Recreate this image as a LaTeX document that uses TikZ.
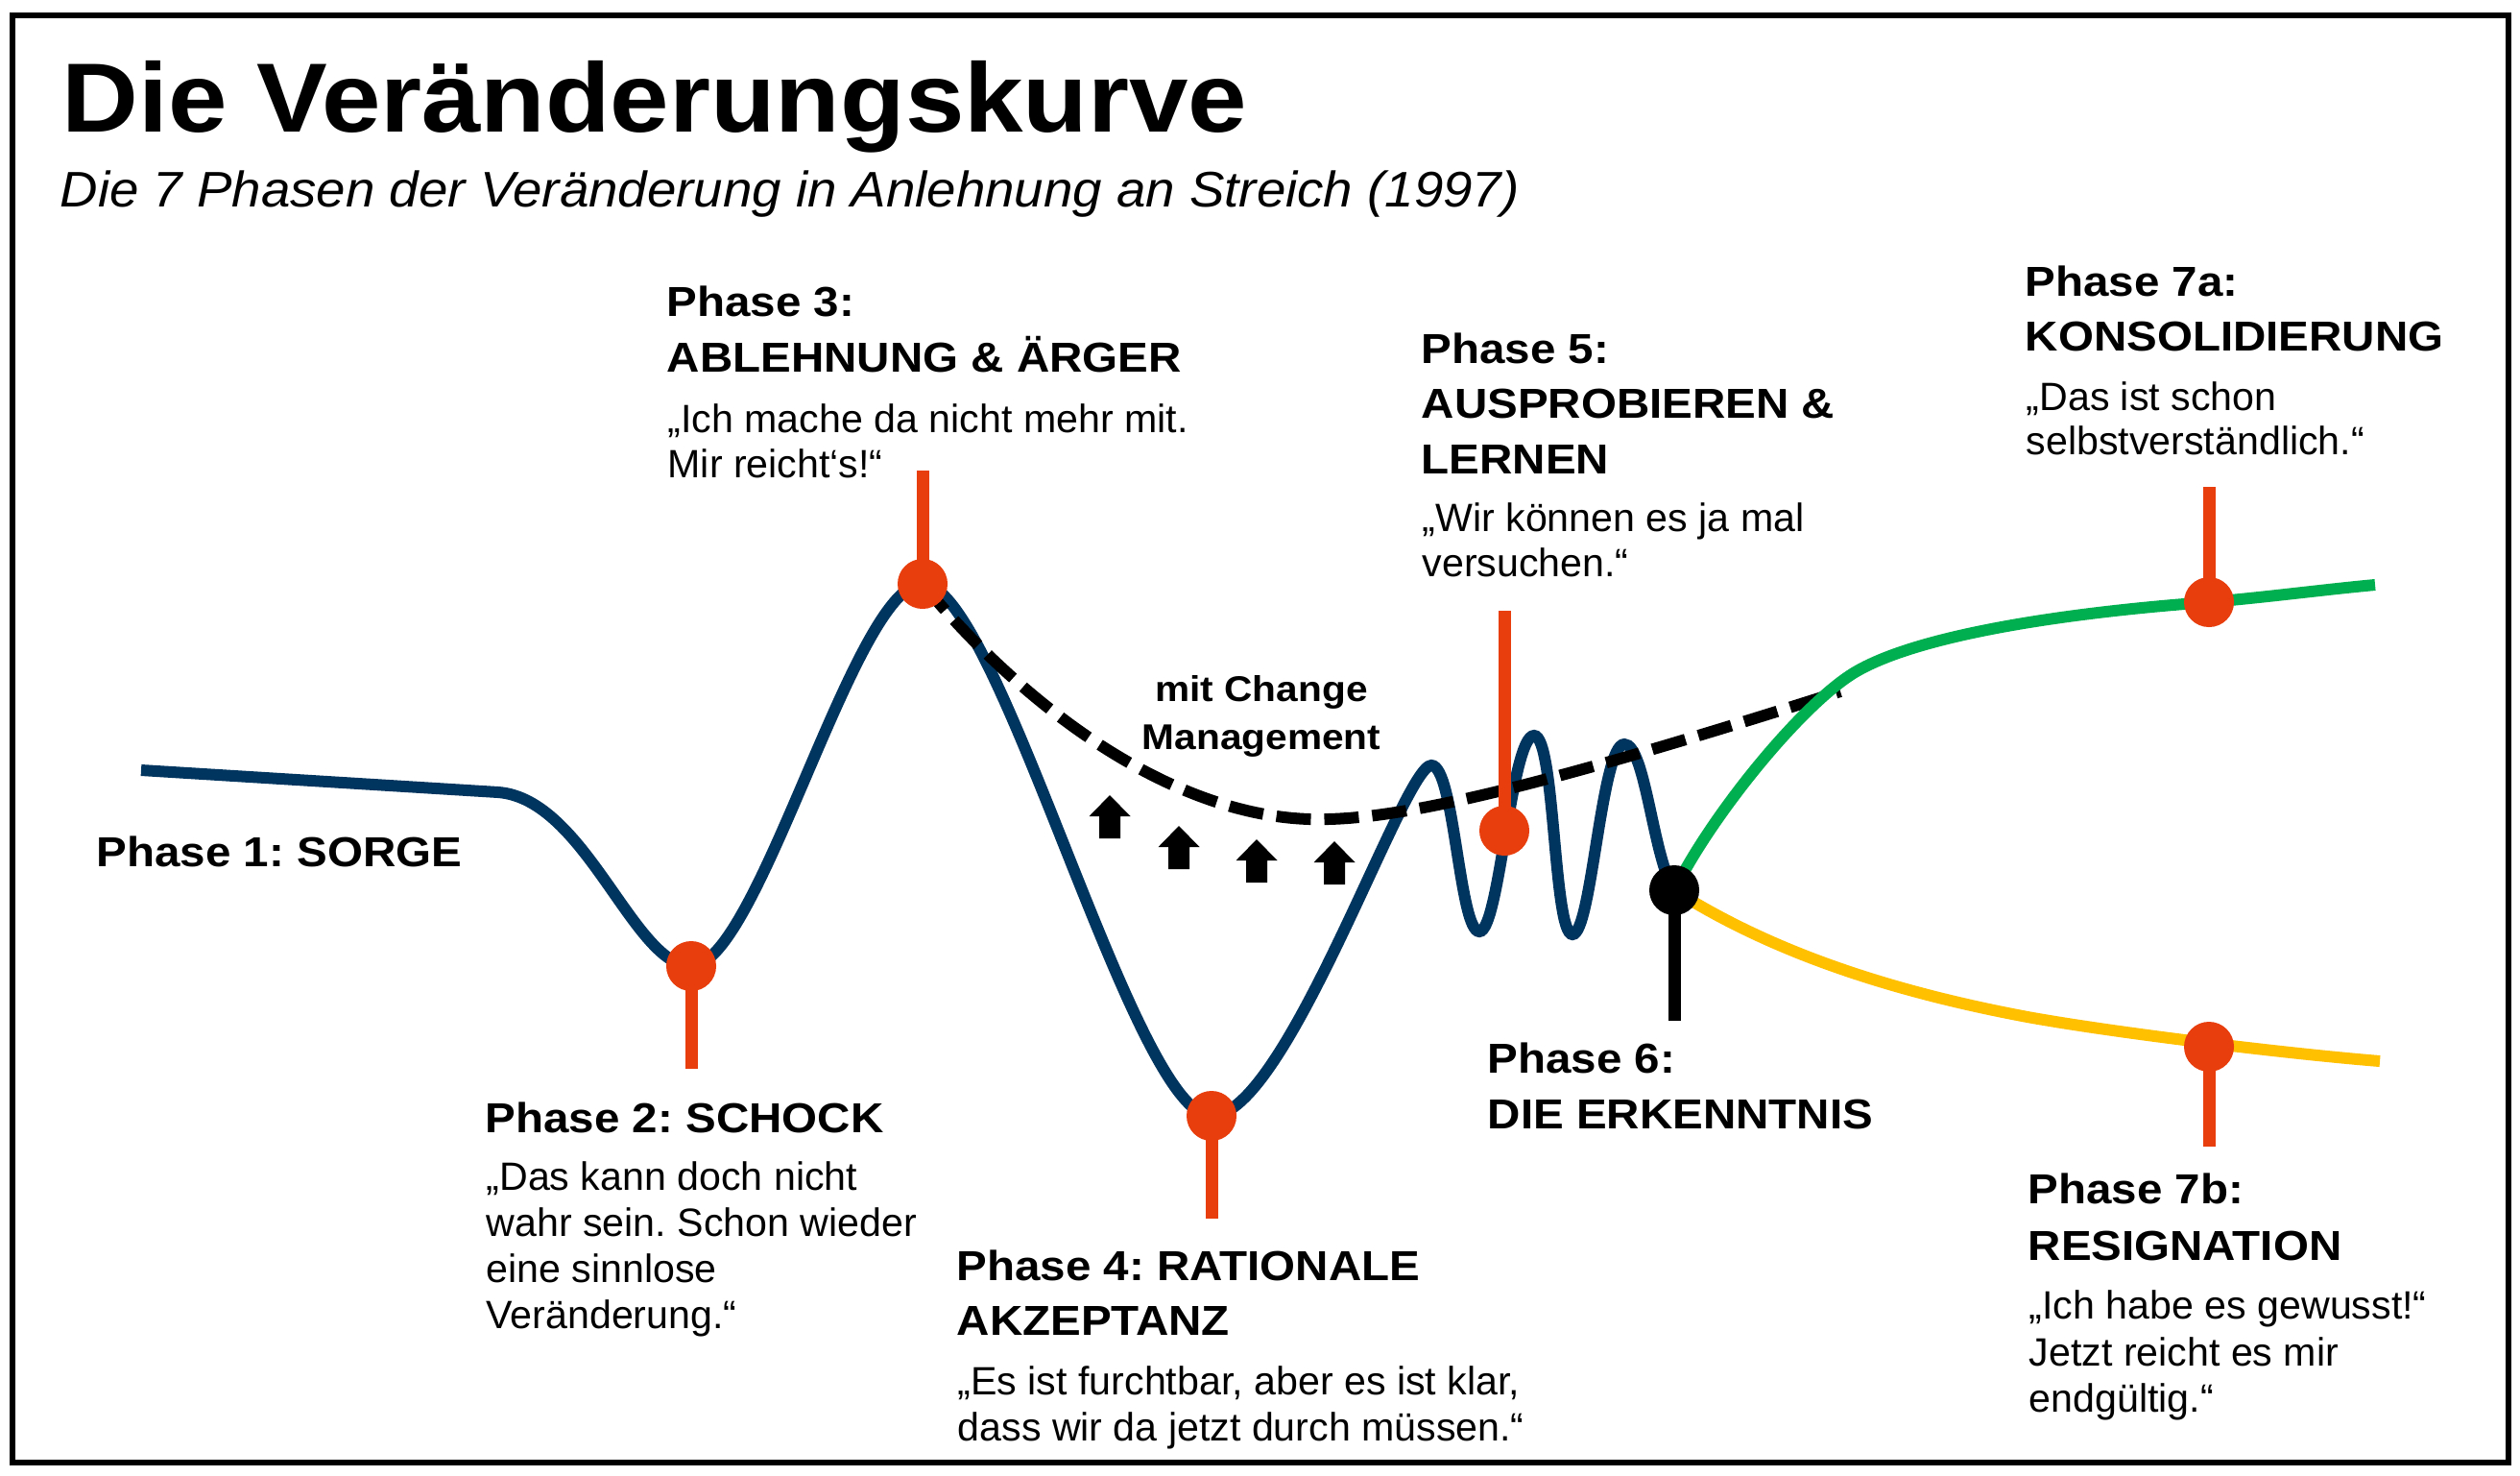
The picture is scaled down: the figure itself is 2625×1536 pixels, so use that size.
\documentclass[tikz,border=0pt]{standalone}
\usepackage{fontspec}
\setmainfont{Liberation Sans}
\newfontfamily\ftitle{Liberation Sans}[FakeStretch=1.08]
\newfontfamily\flabel{Liberation Sans}[FakeStretch=1.09]
\newfontfamily\fsub{Liberation Sans}[FakeStretch=1.05]
\definecolor{cnavy}{RGB}{0,53,95}
\definecolor{cred}{RGB}{232,62,14}
\definecolor{cgreen}{RGB}{0,176,80}
\definecolor{cyellow}{RGB}{255,192,0}
\tikzset{
  titletext/.style={anchor=base west, inner sep=0pt, font=\ftitle\bfseries\fontsize{29.1pt}{34pt}\selectfont},
  subtext/.style={anchor=base west, inner sep=0pt, font=\fsub\itshape\fontsize{14.8pt}{17pt}\selectfont},
  lbl/.style={anchor=base west, inner sep=0pt, font=\flabel\bfseries\fontsize{12.4pt}{15pt}\selectfont},
  quote/.style={anchor=base west, inner sep=0pt, font=\fontsize{11.7pt}{14pt}\selectfont},
  cmtext/.style={anchor=base, inner sep=0pt, font=\flabel\bfseries\fontsize{10.6pt}{13pt}\selectfont},
  curve/.style={line width=0.12cm},
  stick/.style={line width=0.13cm},
  dotr/.style={circle, fill=cred, minimum size=0.52cm, inner sep=0pt},
  dotk/.style={circle, fill=black, minimum size=0.52cm, inner sep=0pt},
  uparrow/.pic={\fill[black] (-11,45) -- (-11,22) -- (-21.5,22) -- (0,0) -- (21.5,22) -- (11,22) -- (11,45) -- cycle;}
}
\begin{document}
\frenchspacing
\begin{tikzpicture}[x=0.01cm,y=-0.01cm]
\useasboundingbox (0,0) rectangle (2625,1536);
\fill[white] (0,0) rectangle (2625,1536);
\draw[line width=0.06cm] (13,16) rectangle (2613,1523);

% title
\node[titletext] (title) at (64,137) {Die Veränderungskurve};
\node[subtext] (subtitle) at (62,215) {Die 7 Phasen der Veränderung in Anlehnung an Streich (1997)};

% key points
\coordinate (p0) at (147,802);
\coordinate (p2) at (720,1006);
\coordinate (p3) at (961,608);
\coordinate (p4) at (1262,1162);
\coordinate (p5) at (1567,865);
\coordinate (p6) at (1744,927);
\coordinate (p7a) at (2301,627);
\coordinate (p7b) at (2301,1090);

% main curve
\draw[curve, cnavy] (p0) -- (519,825) .. controls (610,832) and (660,1006) .. (p2)
  .. controls (790,1006) and (890,608) .. (p3)
  .. controls (1040,608) and (1180,1162) .. (p4)
  .. controls (1340,1162) and (1462,797) .. (1491,797)
  .. controls (1515,797) and (1520,970) .. (1541,970)
  .. controls (1562,970) and (1574,766) .. (1598,766)
  .. controls (1620,766) and (1618,973) .. (1638,973)
  .. controls (1658,973) and (1668,775) .. (1692,775)
  .. controls (1714,775) and (1722,895) .. (p6);

% change management dashed curve
\coordinate (cmend) at (1917,720);
\draw[line width=0.12cm, dash pattern=on 0.36cm off 0.14cm] (p3)
  .. controls (1070,740) and (1230,858) .. (1383,853)
  .. controls (1480,851) and (1650,805) .. (cmend);

% branches
\coordinate (gend) at (2474,609);
\coordinate (yend) at (2479,1105);
\draw[curve, cgreen] (p6) .. controls (1785,845) and (1880,730) .. (1934,699)
  .. controls (2000,661) and (2150,638) .. (p7a)
  .. controls (2360,622) and (2420,614) .. (gend);
\draw[curve, cyellow] (p6) .. controls (1820,975) and (1930,1025) .. (2112,1059)
  .. controls (2200,1075) and (2380,1097) .. (yend);

% arrows
\pic at (1156,828) {uparrow};
\pic at (1228,860) {uparrow};
\pic at (1309,874) {uparrow};
\pic at (1390,876) {uparrow};
\node[cmtext] (cm1) at (1314,730) {mit Change};
\node[cmtext] (cm2) at (1314,780) {Management};

% sticks
\coordinate (s2) at (720,1113);
\coordinate (s3) at (961,490);
\coordinate (s4) at (1262,1269);
\coordinate (s5) at (1567,636);
\coordinate (s6) at (1744,1063);
\coordinate (s7a) at (2301,507);
\coordinate (s7b) at (2301,1194);
\draw[stick, cred] (p2) -- (s2);
\draw[stick, cred] (p3) -- (s3);
\draw[stick, cred] (p4) -- (s4);
\draw[stick, cred] (p5) -- (s5);
\draw[stick, black] (p6) -- (s6);
\draw[stick, cred] (p7a) -- (s7a);
\draw[stick, cred] (p7b) -- (s7b);

% dots
\node[dotr] (d2) at (p2) {};
\node[dotr] (d3) at (p3) {};
\node[dotr] (d4) at (p4) {};
\node[dotr] (d5) at (p5) {};
\node[dotk] (d6) at (p6) {};
\node[dotr] (d7a) at (p7a) {};
\node[dotr] (d7b) at (p7b) {};

% phase 1
\node[lbl] (l1a) at (100,902) {Phase 1: SORGE};
% phase 2
\node[lbl] (l2a) at (505,1179) {Phase 2: SCHOCK};
\node[quote] (q2a) at (506,1239) {„Das kann doch nicht};
\node[quote] (q2b) at (506,1287) {wahr sein. Schon wieder};
\node[quote] (q2c) at (506,1335) {eine sinnlose};
\node[quote] (q2d) at (506,1383) {Veränderung.“};
% phase 3
\node[lbl] (l3a) at (694,329) {Phase 3:};
\node[lbl] (l3b) at (694,387) {ABLEHNUNG \& ÄRGER};
\node[quote] (q3a) at (695,450) {„Ich mache da nicht mehr mit.};
\node[quote] (q3b) at (695,497) {Mir reicht‘s!“};
% phase 4
\node[lbl] (l4a) at (996,1333) {Phase 4: RATIONALE};
\node[lbl] (l4b) at (996,1390) {AKZEPTANZ};
\node[quote] (q4a) at (997,1452) {„Es ist furchtbar, aber es ist klar,};
\node[quote] (q4b) at (997,1500) {dass wir da jetzt durch müssen.“};
% phase 5
\node[lbl] (l5a) at (1480,378) {Phase 5:};
\node[lbl] (l5b) at (1480,435) {AUSPROBIEREN \&};
\node[lbl] (l5c) at (1480,493) {LERNEN};
\node[quote] (q5a) at (1481,553) {„Wir können es ja mal};
\node[quote] (q5b) at (1481,600) {versuchen.“};
% phase 6
\node[lbl] (l6a) at (1549,1117) {Phase 6:};
\node[lbl] (l6b) at (1549,1175) {DIE ERKENNTNIS};
% phase 7a
\node[lbl] (l7a1) at (2109,308) {Phase 7a:};
\node[lbl] (l7a2) at (2109,365) {KONSOLIDIERUNG};
\node[quote] (q7a1) at (2110,427) {„Das ist schon};
\node[quote] (q7a2) at (2110,473) {selbstverständlich.“};
% phase 7b
\node[lbl] (l7b1) at (2112,1253) {Phase 7b:};
\node[lbl] (l7b2) at (2112,1312) {RESIGNATION};
\node[quote] (q7b1) at (2113,1373) {„Ich habe es gewusst!“};
\node[quote] (q7b2) at (2113,1422) {Jetzt reicht es mir};
\node[quote] (q7b3) at (2113,1470) {endgültig.“};
\end{tikzpicture}
\end{document}
